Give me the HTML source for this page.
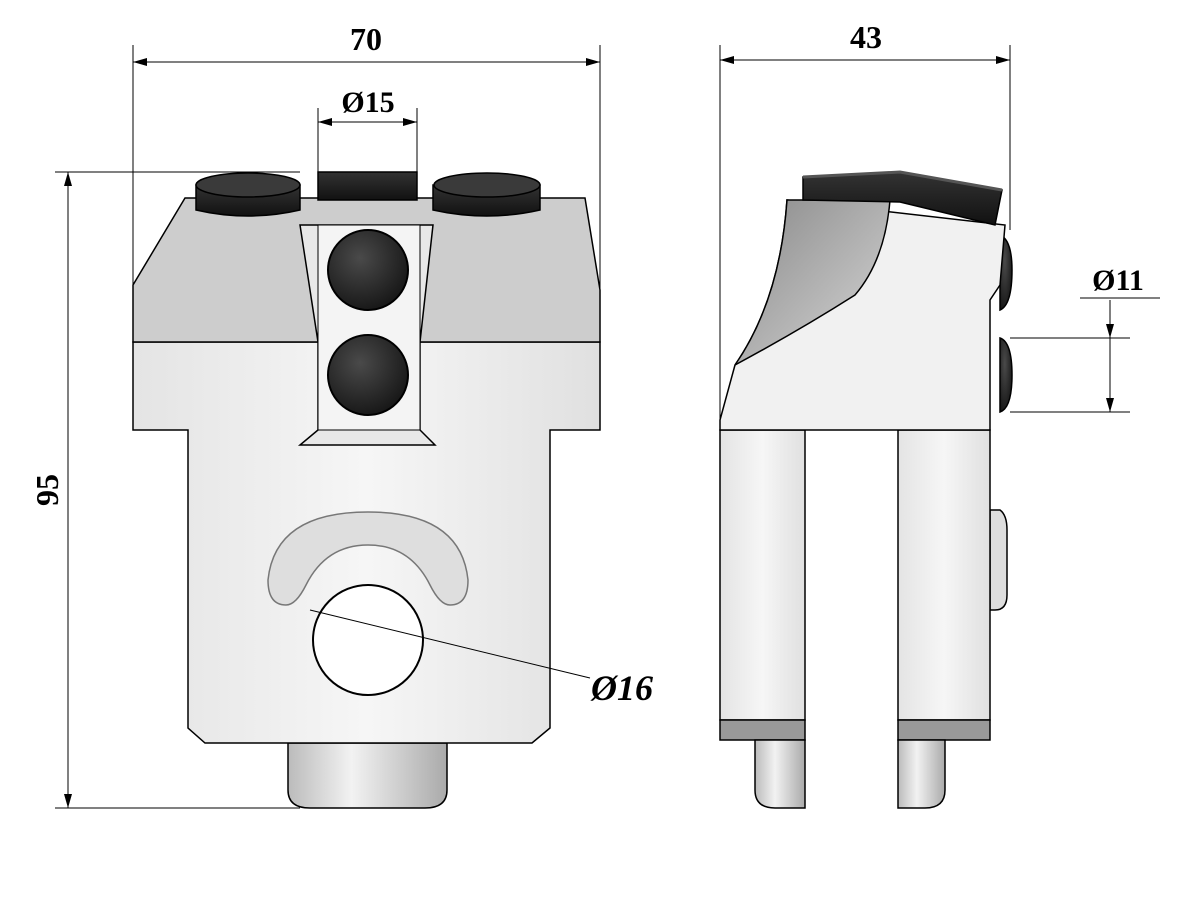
<!DOCTYPE html>
<html><head><meta charset="utf-8"><style>
html,body{margin:0;padding:0;background:#fff;width:1200px;height:900px;overflow:hidden}
text{font-family:"Liberation Serif",serif;font-weight:bold;fill:#000}
</style></head><body>
<svg width="1200" height="900" viewBox="0 0 1200 900" xmlns="http://www.w3.org/2000/svg">
<defs>
<linearGradient id="body" x1="0" x2="1"><stop offset="0" stop-color="#e4e4e4"/><stop offset="0.5" stop-color="#f6f6f6"/><stop offset="1" stop-color="#e0e0e0"/></linearGradient>
<linearGradient id="cap" x1="0" y1="0" x2="0" y2="1"><stop offset="0" stop-color="#333"/><stop offset="1" stop-color="#111"/></linearGradient>
<radialGradient id="btn" cx="0.4" cy="0.35" r="0.7"><stop offset="0" stop-color="#4a4a4a"/><stop offset="1" stop-color="#151515"/></radialGradient>
<linearGradient id="nub" x1="0" x2="1"><stop offset="0" stop-color="#bbb"/><stop offset="0.4" stop-color="#f2f2f2"/><stop offset="1" stop-color="#aaa"/></linearGradient>
<linearGradient id="curve" x1="0" y1="0" x2="1" y2="1"><stop offset="0" stop-color="#888"/><stop offset="1" stop-color="#d8d8d8"/></linearGradient>
</defs>
<g stroke="#000" stroke-width="1" fill="none">
<line x1="133" y1="62" x2="600" y2="62"/><line x1="133" y1="45" x2="133" y2="285"/><line x1="600" y1="45" x2="600" y2="290"/>
<line x1="318" y1="122" x2="417" y2="122"/><line x1="318" y1="108" x2="318" y2="172"/><line x1="417" y1="108" x2="417" y2="172"/>
<line x1="68" y1="172" x2="68" y2="808"/><line x1="55" y1="172" x2="300" y2="172"/><line x1="55" y1="808" x2="300" y2="808"/>
<line x1="720" y1="60" x2="1010" y2="60"/><line x1="720" y1="45" x2="720" y2="430"/><line x1="1010" y1="45" x2="1010" y2="230"/>
<line x1="1010" y1="338" x2="1130" y2="338"/><line x1="1010" y1="412" x2="1130" y2="412"/><line x1="1110" y1="300" x2="1110" y2="412"/>
<line x1="1080" y1="298" x2="1160" y2="298"/>
</g>
<g fill="#000">
<polygon points="133,62 147,58 147,66"/><polygon points="600,62 586,58 586,66"/>
<polygon points="318,122 332,118 332,126"/><polygon points="417,122 403,118 403,126"/>
<polygon points="68,172 64,186 72,186"/><polygon points="68,808 64,794 72,794"/>
<polygon points="720,60 734,56 734,64"/><polygon points="1010,60 996,56 996,64"/>
<polygon points="1110,338 1106,324 1114,324"/><polygon points="1110,412 1106,398 1114,398"/>
</g>
<text x="366" y="50" font-size="32" text-anchor="middle">70</text>
<text x="368" y="112" font-size="30" text-anchor="middle">Ø15</text>
<text x="866" y="48" font-size="32" text-anchor="middle">43</text>
<text x="1118" y="290" font-size="30" text-anchor="middle">Ø11</text>
<text transform="translate(58,490) rotate(-90)" font-size="32" text-anchor="middle">95</text>
<text x="622" y="700" font-size="36" font-style="italic" text-anchor="middle">Ø16</text>

<g stroke="#000" stroke-width="1.5">
<path d="M288,743 L447,743 L447,790 Q447,808 425,808 L310,808 Q288,808 288,790 Z" fill="url(#nub)"/>
<path d="M133,342 L600,342 L600,430 L550,430 L550,728 L532,743 L205,743 L188,728 L188,430 L133,430 Z" fill="url(#body)"/>
<path d="M185,198 L585,198 L600,290 L600,342 L133,342 L133,285 Z" fill="#cdcdcd"/>
<path d="M300,225 L433,225 L420,342 L420,430 L435,445 L300,445 L318,430 L318,342 Z" fill="#e8e8e8"/>
<path d="M318,225 L420,225 L420,430 L318,430 Z" fill="#f4f4f4" stroke-width="1"/>
<circle cx="368" cy="270" r="40" fill="url(#btn)" stroke-width="2"/>
<circle cx="368" cy="375" r="40" fill="url(#btn)" stroke-width="2"/>
<path d="M196,185 L196,210 Q248,222 300,210 L300,185 Z" fill="url(#cap)"/>
<ellipse cx="248" cy="185" rx="52" ry="12" fill="#3a3a3a"/>
<path d="M318,172 L417,172 L417,200 L318,200 Z" fill="url(#cap)"/>
<path d="M433,185 L433,210 Q487,222 540,210 L540,185 Z" fill="url(#cap)"/>
<ellipse cx="487" cy="185" rx="53" ry="12" fill="#3a3a3a"/>
<path d="M268,580 Q275,512 368,512 Q461,512 468,580 Q468,605 450,605 Q440,605 430,585 Q410,545 368,545 Q326,545 306,585 Q296,605 286,605 Q268,605 268,580 Z" fill="#dedede" stroke="#777"/>
<circle cx="368" cy="640" r="55" fill="#fff" stroke-width="2"/>
</g>
<line x1="310" y1="610" x2="590" y2="678" stroke="#000" stroke-width="1"/>

<g stroke="#000" stroke-width="1.5">
<path d="M990,510 L1000,510 Q1007,515 1007,530 L1007,595 Q1007,610 995,610 L990,610 Z" fill="#ddd"/>
<path d="M1000,235 Q1012,240 1012,270 Q1012,305 1000,310 Z" fill="url(#btn)"/>
<path d="M1000,338 Q1012,342 1012,375 Q1012,408 1000,412 Z" fill="url(#btn)"/>
<path d="M720,430 L805,430 L805,720 L720,720 Z" fill="url(#body)"/>
<path d="M898,430 L990,430 L990,720 L898,720 Z" fill="url(#body)"/>
<rect x="720" y="720" width="85" height="20" fill="#999"/>
<rect x="898" y="720" width="92" height="20" fill="#999"/>
<path d="M755,740 L805,740 L805,808 L775,808 Q755,808 755,790 Z" fill="url(#nub)"/>
<path d="M898,740 L945,740 L945,790 Q945,808 925,808 L898,808 Z" fill="url(#nub)"/>
<path d="M720,420 L735,365 Q780,300 787,200 L1005,225 L1000,285 L990,300 L990,430 L720,430 Z" fill="#f1f1f1"/>
<path d="M735,365 Q800,330 855,295 Q885,260 890,200 L787,200 Q780,300 735,365 Z" fill="url(#curve)"/>
<path d="M803,177 L900,172 L1002,190 L995,225 L900,202 L803,200 Z" fill="url(#cap)"/>
<path d="M803,177 L900,172 L1002,190" fill="none" stroke="#555" stroke-width="3"/>
</g>
</svg>
</body></html>
